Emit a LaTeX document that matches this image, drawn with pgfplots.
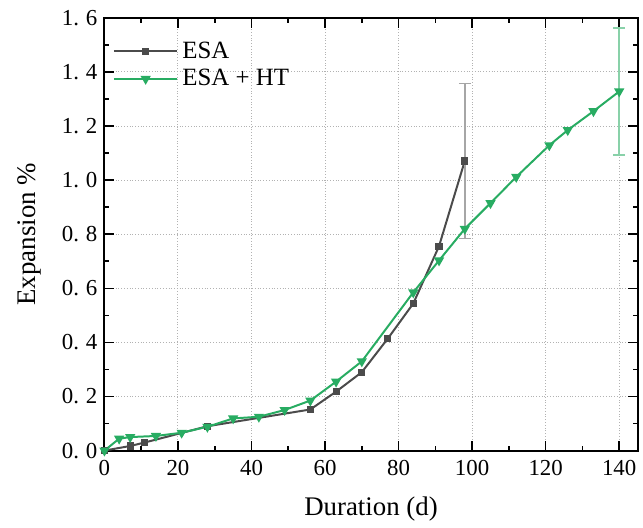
\documentclass[border=0pt]{standalone}
\usepackage{fontspec}
\setmainfont{Liberation Serif}
\usepackage{pgfplots}
\pgfplotsset{compat=1.18}
\definecolor{esagray}{RGB}{75,75,75}
\definecolor{esagreen}{RGB}{40,172,98}
\newcommand{\yt}[2]{#1.\hspace{3.5pt}#2}
\begin{document}
\begin{tikzpicture}
\begin{axis}[
  name=main,
  scale only axis,
  width=268pt, height=217.5pt,
  xmin=0, xmax=145, ymin=0, ymax=1.6,
  xtick={0,20,...,140}, ytick={0,0.2,0.4,0.6,0.8,1.0,1.2,1.4,1.6},
  yticklabels={\yt00,\yt02,\yt04,\yt06,\yt08,\yt10,\yt12,\yt14,\yt16},
  minor tick num=1,
  tick align=inside,
  major tick length=5pt, minor tick length=2.5pt,
  every tick/.style={black, line width=0.8pt},
  axis line style={line width=1pt},
  grid=major,
  major grid style={gray!60, densely dotted, line width=0.5pt},
  /pgf/number format/assume math mode=true,
  tick label style={font=\fontsize{11.5}{13}\selectfont},
  xticklabel style={yshift=-1.5pt},
  xlabel={Duration (d)}, ylabel={Expansion \%},
  label style={font=\fontsize{13.5}{16}\selectfont},
  xlabel style={at={(axis description cs:0.5,-0.135)}, anchor=center},
  ylabel style={at={(axis description cs:-0.14,0.5)}, anchor=center},
  legend style={draw=none, fill=none, at={(0.015,0.955)}, anchor=north west,
    font=\fontsize{12.5}{15}\selectfont, row sep=0pt, inner sep=0pt},
  legend cell align=left,
  legend image code/.code={\draw[mark repeat=2,mark phase=2,#1] plot coordinates {(0pt,0pt) (16pt,0pt) (32pt,0pt)};},
]
\addplot[esagray, line width=1pt, mark=square*, mark size=1.3pt] coordinates {
 (0,0) (7,0.017) (11,0.03) (28,0.09) (56,0.152) (63,0.218) (70,0.29) (77,0.413) (84,0.544) (91,0.756) (98,1.071)
};
\addlegendentry{ESA}
\addplot[esagreen, line width=1pt, mark=triangle*, mark options={rotate=180}, mark size=2pt] coordinates {
 (0,0) (4,0.044) (7,0.05) (14,0.054) (21,0.066) (28,0.088) (35,0.119) (42,0.125) (49,0.15) (56,0.185) (63,0.255) (70,0.33) (84,0.585) (91,0.703) (98,0.82) (105,0.915) (112,1.012) (121,1.129) (126,1.185) (133,1.255) (140,1.328)
};
\addlegendentry{ESA + HT}
\addplot[forget plot, draw=none, mark=none, error bars/.cd, y dir=both, y explicit,
  error bar style={gray!70, line width=0.8pt},
  error mark options={rotate=90, mark size=3pt, gray!70, line width=0.8pt}] coordinates {
 (98,1.071) +- (0,0.287)
};
\addplot[forget plot, draw=none, mark=none, error bars/.cd, y dir=both, y explicit,
  error bar style={esagreen!55, line width=0.8pt},
  error mark options={rotate=90, mark size=3pt, esagreen!55, line width=0.8pt}] coordinates {
 (140,1.328) +- (0,0.235)
};
\end{axis}
\path ([xshift=-52.5pt,yshift=-37.5pt]main.south west) rectangle ([xshift=1pt,yshift=9pt]main.north east);
\end{tikzpicture}
\end{document}
